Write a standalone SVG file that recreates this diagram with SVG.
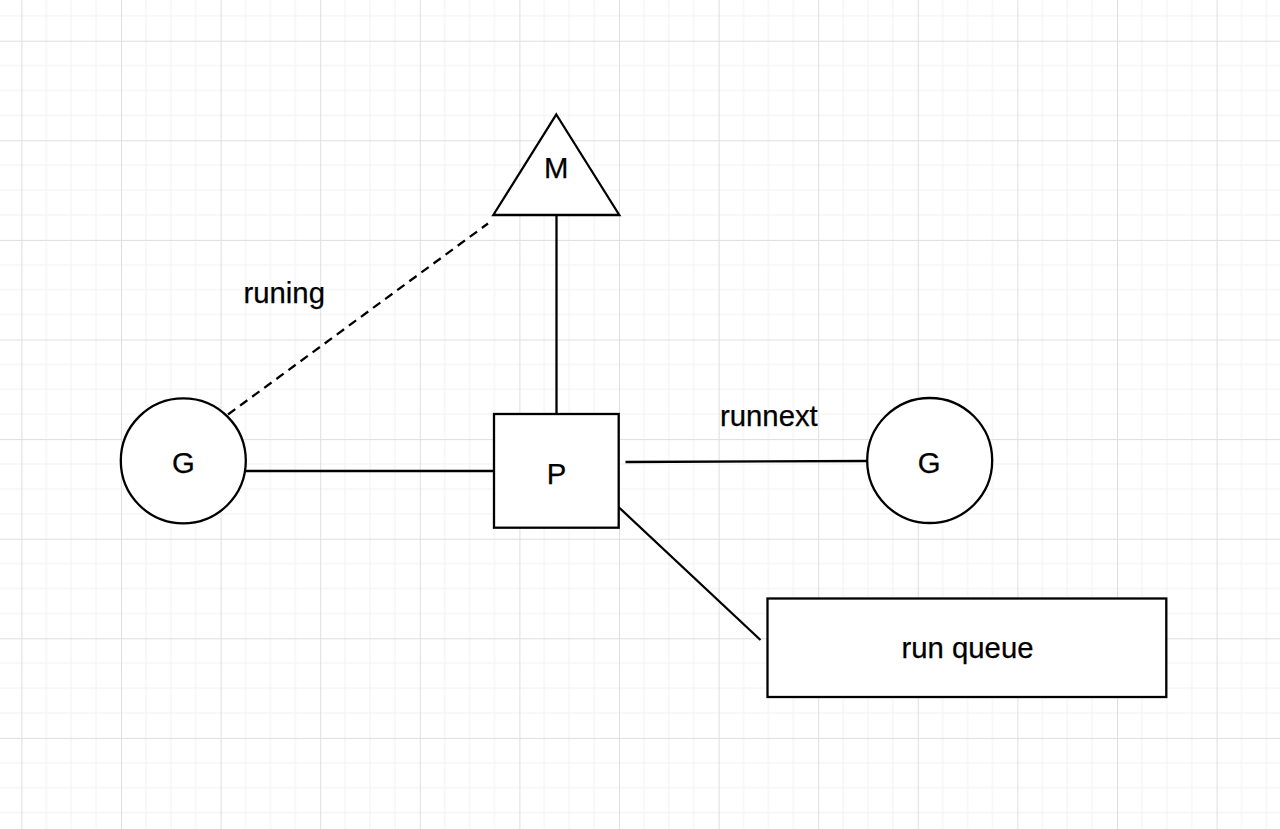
<svg xmlns="http://www.w3.org/2000/svg" width="1280" height="829" viewBox="0 0 1280 829">
  <style>
    .shape { fill: #ffffff; stroke: #000000; stroke-width: 2.3; }
    .edge { fill: none; stroke: #000000; stroke-width: 2.3; }
    .dashed { stroke-dasharray: 9 6; }
    .label { font-family: "Liberation Sans", Arial, Helvetica, sans-serif; font-size: 29.3px; fill: #000000; stroke: #000000; stroke-width: 0.25; }
    .mid { text-anchor: middle; }
  </style>
  <defs>
    <pattern id="grid" patternUnits="userSpaceOnUse" x="21.4" y="40.7" width="99.6" height="99.6">
      <path d="M24.9 0V99.6M49.8 0V99.6M74.7 0V99.6M0 24.9H99.6M0 49.8H99.6M0 74.7H99.6" stroke="#f2f2f2" stroke-width="1" fill="none"/>
      <path d="M0.5 0V99.6M0 0.5H99.6" stroke="#dedede" stroke-width="1" fill="none"/>
    </pattern>
  </defs>
  <rect x="0" y="0" width="1280" height="829" fill="#ffffff"/>
  <rect x="0" y="0" width="1280" height="829" fill="url(#grid)"/>

  <g id="connectors">
    <line class="edge dashed" x1="228" y1="414.5" x2="488" y2="223.5"/>
    <line class="edge" x1="556.5" y1="215" x2="556.5" y2="414"/>
    <line class="edge" x1="245.5" y1="471" x2="494" y2="471"/>
    <line class="edge" x1="625.5" y1="462" x2="867" y2="461"/>
    <line class="edge" x1="619" y1="507.5" x2="760.5" y2="640"/>
    <text class="label" x="243.5" y="302.5">runing</text>
    <text class="label" x="720" y="426">runnext</text>
  </g>

  <g id="node-M">
    <polygon class="shape" points="556.3,114.5 619.3,215 493.3,215"/>
    <text class="label mid" x="556.3" y="178.3">M</text>
  </g>

  <g id="node-P">
    <rect class="shape" x="494" y="414" width="124.7" height="113.7"/>
    <text class="label mid" x="556.5" y="484.3">P</text>
  </g>

  <g id="node-G-left">
    <circle class="shape" cx="183.3" cy="460.8" r="62.5"/>
    <text class="label mid" x="183.3" y="473.3">G</text>
  </g>

  <g id="node-G-right">
    <circle class="shape" cx="929.7" cy="460.5" r="62.5"/>
    <text class="label mid" x="929.2" y="472.8">G</text>
  </g>

  <g id="node-runqueue">
    <rect class="shape" x="767.5" y="598.5" width="398.8" height="98.5"/>
    <text class="label mid" x="967.5" y="658.3">run queue</text>
  </g>
</svg>
